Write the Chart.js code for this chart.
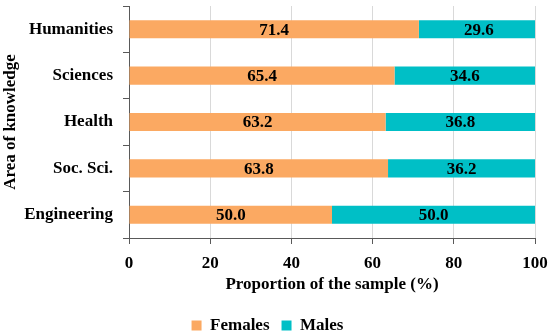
<!DOCTYPE html>
<html>
<head>
<meta charset="utf-8">
<script src="https://cdn.jsdelivr.net/npm/chart.js@4"></script>
<style>
  html, body { margin: 0; padding: 0; background: #fff; }
  #wrap { width: 550px; height: 333px; }
</style>
</head>
<body>
<div id="wrap"><canvas id="myChart" width="550" height="333"></canvas></div>
<script>
const categories = ['Humanities', 'Sciences', 'Health', 'Soc. Sci.', 'Engineering'];
const females = [71.4, 65.4, 63.2, 63.8, 50.0];
const males = [29.6, 34.6, 36.8, 36.2, 50.0];
const xTicks = [0, 20, 40, 60, 80, 100];

const serif = '"Palatino Linotype", "Book Antiqua", Palatino, "Liberation Serif", serif';
Chart.defaults.font.family = serif;
Chart.defaults.font.size = 17;
Chart.defaults.font.weight = 'bold';
Chart.defaults.color = '#000';

// value labels in the middle of each segment
const barLabels = {
  id: 'barLabels',
  afterDatasetsDraw(chart) {
    const ctx = chart.ctx;
    ctx.save();
    ctx.font = 'bold 17px ' + serif;
    ctx.fillStyle = '#000';
    ctx.textAlign = 'center';
    ctx.textBaseline = 'middle';
    chart.data.datasets.forEach((ds, i) => {
      chart.getDatasetMeta(i).data.forEach((bar, j) => {
        const x = (bar.x + bar.base) / 2;
        ctx.fillText(ds.data[j].toFixed(1), x, bar.y + 1);
      });
    });
    ctx.restore();
  }
};

let myChart = document.getElementById('myChart').getContext('2d');

let thisChart = new Chart(myChart, {
  type: 'bar',
  data: {
    labels: categories,
    datasets: [{
      label: 'Females',
      data: females,
      backgroundColor: '#FBA962',
      barPercentage: 0.39,
      categoryPercentage: 1
    }, {
      label: 'Males',
      data: males,
      backgroundColor: '#00BFC6',
      barPercentage: 0.39,
      categoryPercentage: 1
    }]
  },
  options: {
    indexAxis: 'y',
    responsive: false,
    animation: false,
    layout: { padding: { top: 6, right: 15, left: 0, bottom: -11 } },
    scales: {
      x: {
        stacked: true,
        min: 0,
        max: 100,
        afterBuildTicks: (scale) => { scale.ticks = xTicks.map(v => ({ value: v })); },
        grid: { color: '#d9d9d9', tickColor: '#595959', tickLength: 6 },
        border: { color: '#595959' },
        ticks: { padding: 9 },
        title: { display: true, text: 'Proportion of the sample (%)', padding: { top: 4, bottom: 10 } },
        afterFit: (scale) => {
          scale.height = 67;
          scale.paddingLeft = 0;
          scale.paddingRight = 0;
        }
      },
      y: {
        stacked: true,
        grid: { drawOnChartArea: false, tickColor: '#595959', tickLength: 6 },
        border: { color: '#595959' },
        ticks: { padding: 10 },
        title: { display: true, text: 'Area of knowledge', padding: 0 },
        afterFit: (scale) => {
          scale.width = 129;
          scale.paddingTop = 0;
          scale.paddingBottom = 0;
        }
      }
    },
    plugins: {
      legend: {
        position: 'bottom',
        labels: { boxWidth: 10, boxHeight: 10, padding: 12 }
      },
      tooltip: { enabled: false }
    }
  },
  plugins: [barLabels]
});
</script>
</body>
</html>
